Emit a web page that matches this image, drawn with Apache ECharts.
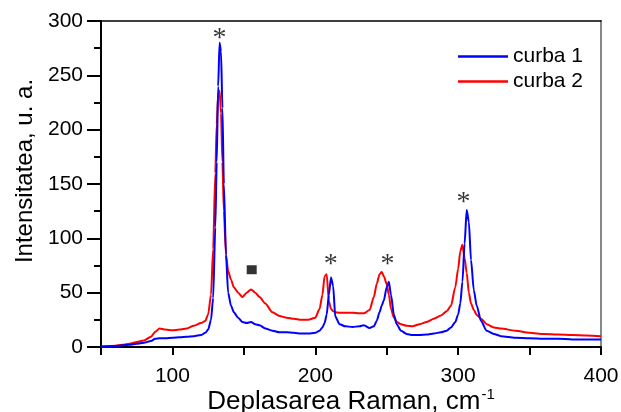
<!DOCTYPE html>
<html>
<head>
<meta charset="utf-8">
<script src="https://cdn.jsdelivr.net/npm/echarts@6/dist/echarts.min.js"></script>
<style>
html,body{margin:0;padding:0;background:#fff;}
#chart{width:621px;height:412px;}
</style>
</head>
<body>
<div id="chart"></div>
<script>
// Raman shift grid (cm^-1)
var ramanShift = [50,55,60,65,70,75,80,85,88,91,95,100,105,110,115,120,123,125,127,128.5,130,131,132,133,134,135,136,137.5,139,141,143,146,149,152,155,158,161,165,170,175,180,185,190,195,200,203,205,206.5,208,209.5,211,212.5,214,217,221,226,231,234,238,241,243,245,246.5,248,250,251.5,253,255,257,260,264,268,273,278,283,288,292,295,298,300,301.5,303,304.5,306,307.5,309,311,313,316,320,325,330,340,350,360,370,380,390,400];

// curba 1 (blue)
var curba1 = [0.5,0.7,1,1.5,2,3,4,5.5,7.5,8,8,8.5,9,9.5,10,11,13,16,25,45,110,170,240,280,272,220,150,85,50,38,32,27,23,22,23,21,20,17,15,13.5,13.5,13,12.5,12.5,13,15,18,22,30,48,64,56,28,21,19,18.5,19,20,17.5,19,24,32,38,43,55,60,48,30,21,15,12,11,11,11.5,12.5,13.5,15,18,23,30,40,60,95,126,115,80,52,38,24,15,12,10,8.5,8,7.5,7.5,7,7,7];

// curba 2 (red)
var curba2 = [0.5,0.8,1.2,2,3,4.5,6,9.5,14,17,16,15.5,16,17,19.5,22,24,30,48,90,160,205,232,236,215,170,125,85,70,62,55,50,46,50,53,50,46,40,32,28.5,27,26,25,25,27,35,48,65,67,42,35,33,32,31.5,31.5,31.5,31,31,34,46,58,67,69,65,58,48,35,27,23,21,19.5,19,21,23,26,29,33,38,55,72,88,94,82,68,50,40,34,29.5,26,21,18,17,15,13,12,11.5,11,10.5,10];

// annotation marks
var starX = [133, 210.9, 250.5, 303.7];
var starY = [289.4, 81.6, 81.6, 138.3];
var squareX = [155.5];
var squareY = [71.1];

var xTicks = [100, 200, 300, 400];
var yTicks = [0, 50, 100, 150, 200, 250, 300];

function zip(xs, ys){ return xs.map(function(x,i){ return [x, ys[i]]; }); }

var FONT = 'Liberation Sans';
var chart = echarts.init(document.getElementById('chart'), null, {renderer:'canvas'});
chart.setOption({
  animation:false,
  backgroundColor:'#fff',
  textStyle:{fontFamily:FONT},
  grid:{left:101, right:20, top:21, bottom:65, containLabel:false, outerBoundsMode:'none'},
  legend:{
    data:['curba 1','curba 2'],
    orient:'vertical', left:453, top:41,
    icon:'rect',
    itemWidth:50, itemHeight:2.5, itemGap:4,
    textStyle:{fontFamily:FONT, fontSize:21, color:'#000'}
  },
  xAxis:[{
    type:'value', min:50, max:400, interval:50,
    axisLine:{show:true, onZero:false, lineStyle:{color:'#000', width:2}},
    axisTick:{show:true, inside:false, length:8, lineStyle:{color:'#000', width:2}},
    splitLine:{show:false},
    axisLabel:{margin:19, fontFamily:FONT, fontSize:21, color:'#000',
      formatter:function(v){ return xTicks.indexOf(v) >= 0 ? String(v) : ''; }},
    name:'{a|Deplasarea Raman, cm}{s|-1}',
    nameLocation:'middle', nameGap:40, nameMoveOverlap:false,
    nameTextStyle:{rich:{
      a:{fontFamily:FONT, fontSize:26, color:'#000'},
      s:{fontFamily:FONT, fontSize:15, color:'#000', verticalAlign:'top', padding:[0,0,14,1]}
    }}
  },{
    type:'value', position:'top', min:50, max:400,
    axisLine:{show:true, onZero:false, lineStyle:{color:'#000', width:1.5}},
    axisTick:{show:false}, axisLabel:{show:false}, splitLine:{show:false}
  }],
  yAxis:[{
    type:'value', min:0, max:300, interval:50,
    axisLine:{show:true, onZero:false, lineStyle:{color:'#000', width:2}},
    axisTick:{show:true, inside:false, length:14, lineStyle:{color:'#000', width:2}},
    minorTick:{show:true, splitNumber:2, length:7, lineStyle:{color:'#000', width:2}},
    splitLine:{show:false}, minorSplitLine:{show:false},
    axisLabel:{margin:18, fontFamily:FONT, fontSize:21, color:'#000',
      formatter:function(v){ return yTicks.indexOf(v) >= 0 ? String(v) : ''; }},
    name:'Intensitatea, u. a.',
    nameLocation:'middle', nameGap:64, nameMoveOverlap:false,
    nameTextStyle:{fontFamily:FONT, fontSize:24, color:'#000', padding:[0,0,0,26]}
  },{
    type:'value', position:'right', min:0, max:300,
    axisLine:{show:true, onZero:false, lineStyle:{color:'#888', width:2}},
    axisTick:{show:false}, axisLabel:{show:false}, splitLine:{show:false}
  }],
  series:[
    {
      name:'curba 2', type:'line', data:zip(ramanShift, curba2),
      symbol:'none', smooth:0.25, smoothMonotone:'x',
      lineStyle:{color:'#ff0000', width:2}, itemStyle:{color:'#ff0000'}, z:2
    },
    {
      name:'curba 1', type:'line', data:zip(ramanShift, curba1),
      symbol:'none', smooth:0.25, smoothMonotone:'x',
      lineStyle:{color:'#0000ff', width:2}, itemStyle:{color:'#0000ff'}, z:3
    },
    {
      name:'stars', type:'scatter', data:zip(starX, starY),
      symbol:'circle', symbolSize:1, itemStyle:{color:'rgba(0,0,0,0)'},
      label:{show:true, position:'inside', formatter:'*', offset:[0,6],
        fontFamily:'Liberation Serif', fontSize:28, color:'#000'},
      silent:true, z:4
    },
    {
      name:'square', type:'scatter', data:zip(squareX, squareY),
      symbol:'rect', symbolSize:[10,9], itemStyle:{color:'#000'},
      silent:true, z:4
    }
  ]
});
</script>
</body>
</html>
